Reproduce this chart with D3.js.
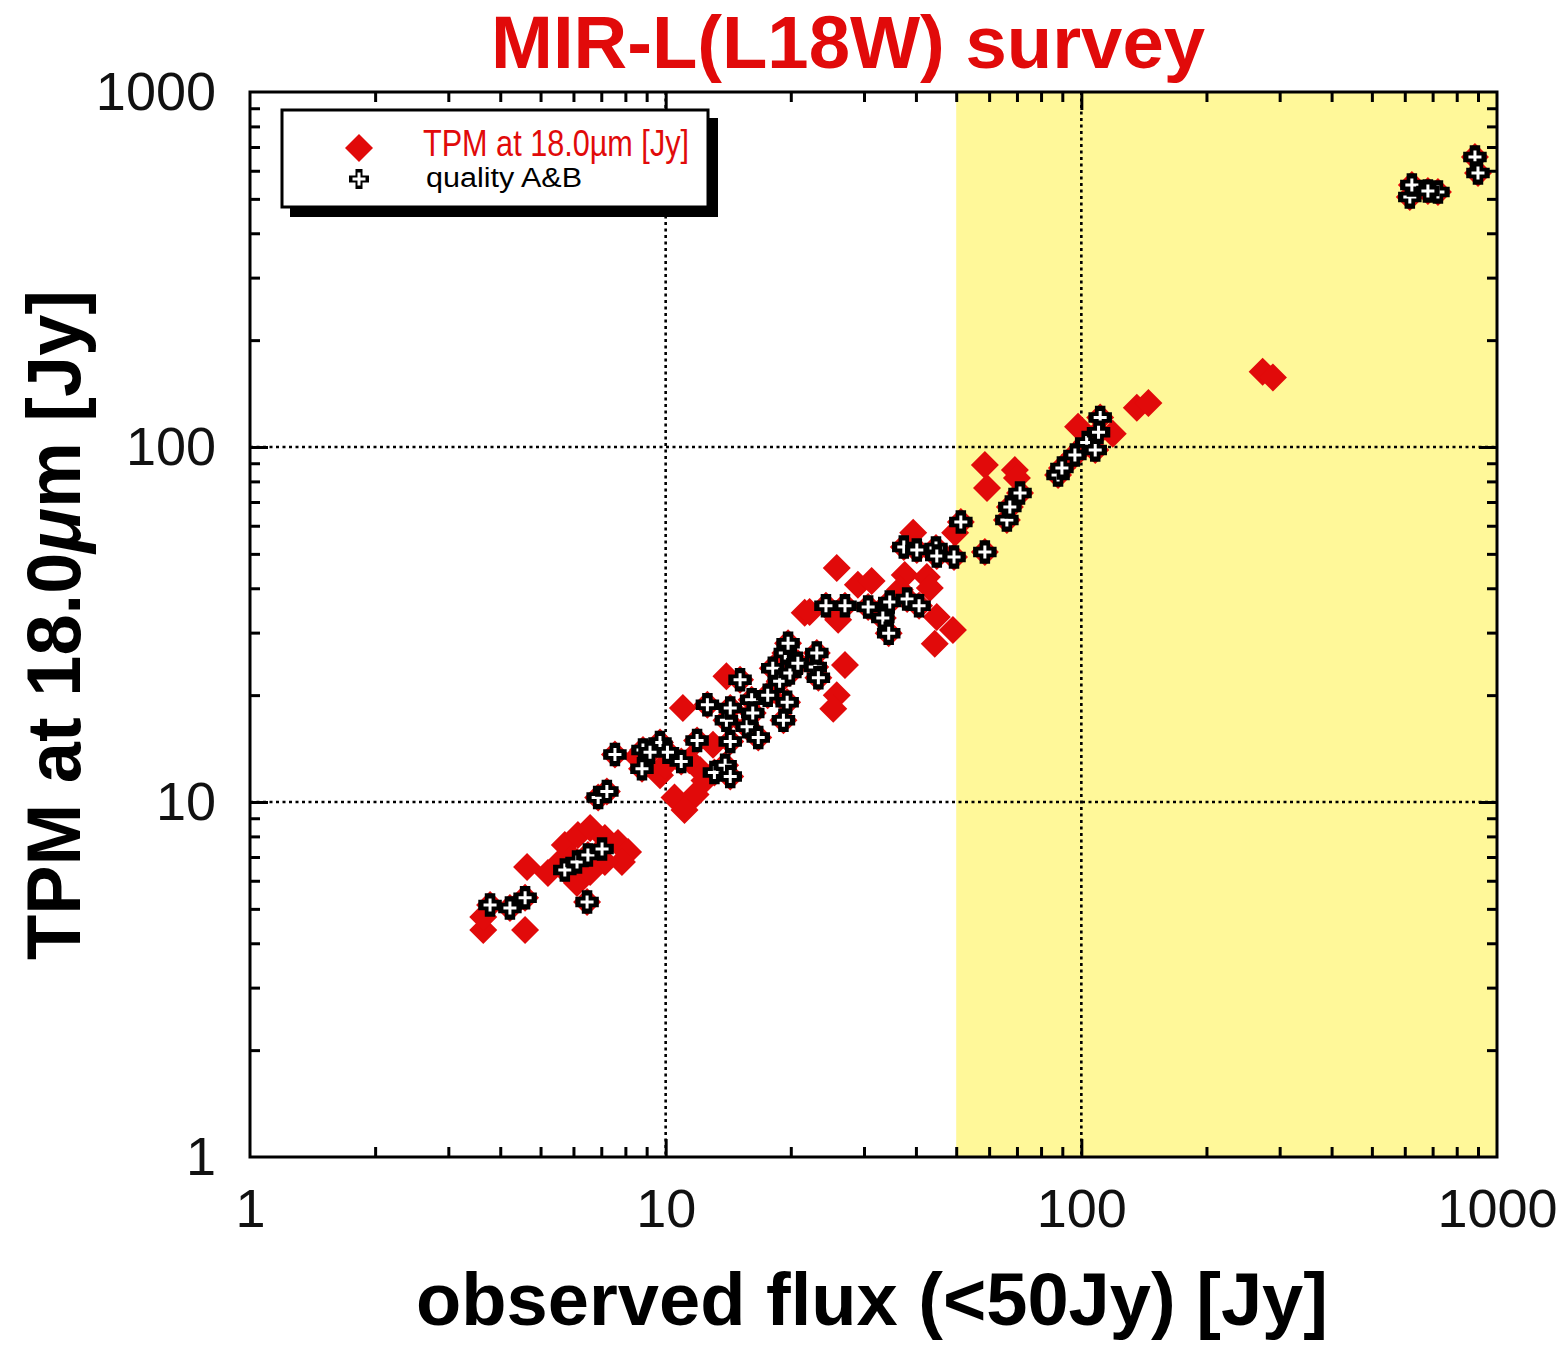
<!DOCTYPE html>
<html>
<head>
<meta charset="utf-8">
<script src="https://cdn.jsdelivr.net/npm/d3@7"></script>
<style>
  body { margin: 0; background: #fff; }
  text { font-family: "Liberation Sans", Arial, Helvetica, sans-serif; }
</style>
</head>
<body>
<div id="chart-area"></div>
<script>
// observed flux [Jy] / TPM at 18um [Jy], points not in quality A&B
var otherFlux = [3.64, 3.64, 4.59, 4.64, 5.21, 6.12, 5.72, 6.15, 6.58, 7.14, 7.68, 8.12, 7.85, 7.14, 6.58, 5.95, 5.57,
  11.0, 8.53, 10.5, 11.8, 11.1, 9.69, 12.1, 13.0, 14.0, 21.6, 26.0, 27.0, 25.8, 25.3, 25.8, 29.0, 31.3, 37.6, 42.5,
  43.2, 36.6, 39.4, 49.7, 44.9, 49.1, 44.4, 22.2, 58.6, 69.2, 59.3, 70.0, 98.2, 119, 136, 145, 273, 289, 9.96, 11.4, 12.4];
var otherTPM = [4.36, 4.74, 4.36, 6.56, 6.31, 5.91, 7.56, 8.07, 8.45, 7.92, 7.66, 7.23, 6.78, 6.78, 6.35, 6.95, 6.78,
  18.4, 13.4, 10.3, 10.5, 9.5, 11.9, 12.3, 14.5, 22.6, 34.1, 32.6, 24.3, 20.0, 18.3, 45.6, 40.9, 41.9, 43.6, 43.0,
  40.1, 39.6, 57.3, 57.3, 33.2, 30.5, 27.9, 34.3, 89.0, 86.1, 76.6, 81.8, 114, 109, 129, 133, 163, 157, 12.7, 13.1, 11.5];

// quality A&B points
var qualityFlux = [3.78, 4.22, 4.59, 5.72, 6.12, 6.50, 7.03, 6.47, 6.88, 7.22, 7.55, 8.82, 8.77, 9.69, 10.1, 10.9,
  11.9, 12.6, 13.1, 13.9, 14.3, 14.3, 14.0, 14.3, 15.1, 15.7, 16.1, 16.2, 16.7, 17.6, 18.1, 18.8, 19.6, 19.2, 19.4,
  19.7, 19.9, 20.8, 22.9, 23.1, 23.3, 24.3, 27.0, 30.7, 34.6, 38.1, 40.7, 33.3, 34.4, 37.4, 40.2, 44.7, 44.9, 49.4,
  51.3, 58.6, 66.2, 67.3, 71.2, 87.9, 89.8, 96.5, 103, 108, 111, 110, 617, 624, 721, 885, 900, 682, 9.17];
var qualityTPM = [5.13, 5.03, 5.37, 6.43, 6.78, 7.09, 7.37, 5.23, 10.3, 10.7, 13.6, 14.0, 12.4, 14.7, 13.8, 13.0,
  14.9, 18.8, 12.1, 12.7, 11.8, 14.8, 17.0, 18.4, 22.1, 16.3, 19.4, 17.8, 15.2, 20.0, 23.8, 21.9, 19.1, 17.0, 26.3,
  28.0, 23.1, 24.6, 24.0, 26.3, 22.4, 35.7, 35.7, 35.4, 36.6, 37.3, 35.7, 33.0, 29.9, 52.3, 51.3, 51.9, 49.3, 49.0,
  61.5, 50.6, 62.3, 67.8, 74.2, 83.4, 87.3, 95.0, 103, 98.1, 121, 110, 506, 547, 523, 656, 591, 526, 13.8];

var majorTicks = [1, 10, 100, 1000];
var gridTicks = [10, 100];
var fluxLimit = 50;

var red = "#e10a0a";
var W = 1562, H = 1346;
var margin = {left: 250, right: 1497, top: 92, bottom: 1157};

var svg = d3.select("#chart-area").append("svg")
  .attr("width", W).attr("height", H);

var x = d3.scaleLog().domain([1, 1000]).range([margin.left, margin.right]);
var y = d3.scaleLog().domain([1, 1000]).range([margin.bottom, margin.top]);

var minor = x.ticks().filter(function(d) { return majorTicks.indexOf(d) < 0; });

// yellow band for flux >= 50 Jy
svg.append("rect")
  .attr("x", x(fluxLimit)).attr("y", margin.top)
  .attr("width", x(1000) - x(fluxLimit)).attr("height", margin.bottom - margin.top)
  .attr("fill", "#fff899");

// dotted grid
svg.selectAll(".gx").data(gridTicks).enter().append("line")
  .attr("x1", d => x(d)).attr("x2", d => x(d))
  .attr("y1", margin.top).attr("y2", margin.bottom)
  .attr("stroke", "#000").attr("stroke-width", 2.6).attr("stroke-dasharray", "3,3.5");
svg.selectAll(".gy").data(gridTicks).enter().append("line")
  .attr("y1", d => y(d)).attr("y2", d => y(d))
  .attr("x1", margin.left).attr("x2", margin.right)
  .attr("stroke", "#000").attr("stroke-width", 2.6).attr("stroke-dasharray", "3,3.5");

// points
var others = otherFlux.map((d, i) => ({x: d, y: otherTPM[i]}));
var quality = qualityFlux.map((d, i) => ({x: d, y: qualityTPM[i]}));
var diamond = "M0,-14L14,0L0,14L-14,0Z";
var crossPath = "M-6.5,0H6.5M0,-6.5V6.5";

svg.append("g").selectAll("path").data(others.concat(quality)).enter().append("path")
  .attr("d", diamond)
  .attr("transform", d => "translate(" + x(d.x) + "," + y(d.y) + ")")
  .attr("fill", red);

var crosses = svg.append("g").selectAll("g").data(quality).enter().append("g")
  .attr("transform", d => "translate(" + x(d.x) + "," + y(d.y) + ")");
crosses.append("path").attr("d", crossPath)
  .attr("stroke", "#000").attr("stroke-width", 10.5).attr("stroke-linecap", "square");
crosses.append("path").attr("d", crossPath)
  .attr("stroke", "#fff").attr("stroke-width", 3);

// ticks on all four sides, pointing inward
var sides = [
  {a: () => d3.axisBottom(x), t: "translate(0," + margin.bottom + ")"},
  {a: () => d3.axisTop(x), t: "translate(0," + margin.top + ")"},
  {a: () => d3.axisLeft(y), t: "translate(" + margin.left + ",0)"},
  {a: () => d3.axisRight(y), t: "translate(" + margin.right + ",0)"}
];
sides.forEach(function(s) {
  var g1 = svg.append("g").attr("transform", s.t)
    .call(s.a().tickValues(minor).tickSize(-10).tickFormat(""));
  var g2 = svg.append("g").attr("transform", s.t)
    .call(s.a().tickValues(gridTicks).tickSize(-18).tickFormat(""));
  [g1, g2].forEach(function(g) {
    g.select(".domain").remove();
    g.selectAll("line").attr("stroke-width", 3);
  });
});

// frame
svg.append("rect")
  .attr("x", margin.left).attr("y", margin.top)
  .attr("width", margin.right - margin.left).attr("height", margin.bottom - margin.top)
  .attr("fill", "none").attr("stroke", "#000").attr("stroke-width", 3);

// tick labels
var xLab = svg.append("g").attr("transform", "translate(0," + margin.bottom + ")")
  .call(d3.axisBottom(x).tickValues(majorTicks).tickSize(0).tickPadding(32).tickFormat(d3.format("d")));
var yLab = svg.append("g").attr("transform", "translate(" + margin.left + ",0)")
  .call(d3.axisLeft(y).tickValues(majorTicks).tickSize(0).tickPadding(34).tickFormat(d3.format("d")));
[xLab, yLab].forEach(function(g) {
  g.select(".domain").remove();
  g.attr("font-family", null);
  g.selectAll("text").attr("font-size", "54px").attr("fill", "#111");
});

// title and axis labels
svg.append("text")
  .attr("x", 848).attr("y", 68)
  .attr("text-anchor", "middle")
  .attr("font-size", "74px").attr("font-weight", "bold").attr("fill", red)
  .attr("textLength", 714).attr("lengthAdjust", "spacingAndGlyphs")
  .text("MIR-L(L18W) survey");

svg.append("text")
  .attr("x", 872).attr("y", 1325)
  .attr("text-anchor", "middle")
  .attr("font-size", "74px").attr("font-weight", "bold").attr("fill", "#000")
  .attr("textLength", 912).attr("lengthAdjust", "spacingAndGlyphs")
  .text("observed flux (<50Jy) [Jy]");

var yLabel = svg.append("text")
  .attr("transform", "translate(80,625) rotate(-90)")
  .attr("text-anchor", "middle")
  .attr("font-size", "76px").attr("font-weight", "bold").attr("fill", "#000")
  .attr("textLength", 670).attr("lengthAdjust", "spacingAndGlyphs");
yLabel.append("tspan").text("TPM at 18.0");
yLabel.append("tspan").attr("font-style", "italic").text("μ");
yLabel.append("tspan").text("m [Jy]");

// legend
var lg = svg.append("g");
lg.append("rect").attr("x", 290).attr("y", 118).attr("width", 428).attr("height", 99).attr("fill", "#000");
lg.append("rect").attr("x", 282).attr("y", 110).attr("width", 426).attr("height", 97)
  .attr("fill", "#fff").attr("stroke", "#000").attr("stroke-width", 3);
lg.append("path").attr("d", diamond).attr("transform", "translate(359,148)").attr("fill", red);
lg.append("path").attr("d", crossPath).attr("transform", "translate(359,179)")
  .attr("stroke", "#000").attr("stroke-width", 7).attr("stroke-linecap", "square");
lg.append("path").attr("d", crossPath).attr("transform", "translate(359,179)")
  .attr("stroke", "#fff").attr("stroke-width", 3);
lg.append("text").attr("x", 423).attr("y", 156)
  .attr("font-size", "36px").attr("fill", red)
  .attr("textLength", 266).attr("lengthAdjust", "spacingAndGlyphs")
  .text("TPM at 18.0µm [Jy]");
lg.append("text").attr("x", 426).attr("y", 187)
  .attr("font-size", "27px").attr("fill", "#000")
  .attr("textLength", 156).attr("lengthAdjust", "spacingAndGlyphs")
  .text("quality A&B");
</script>
</body>
</html>
